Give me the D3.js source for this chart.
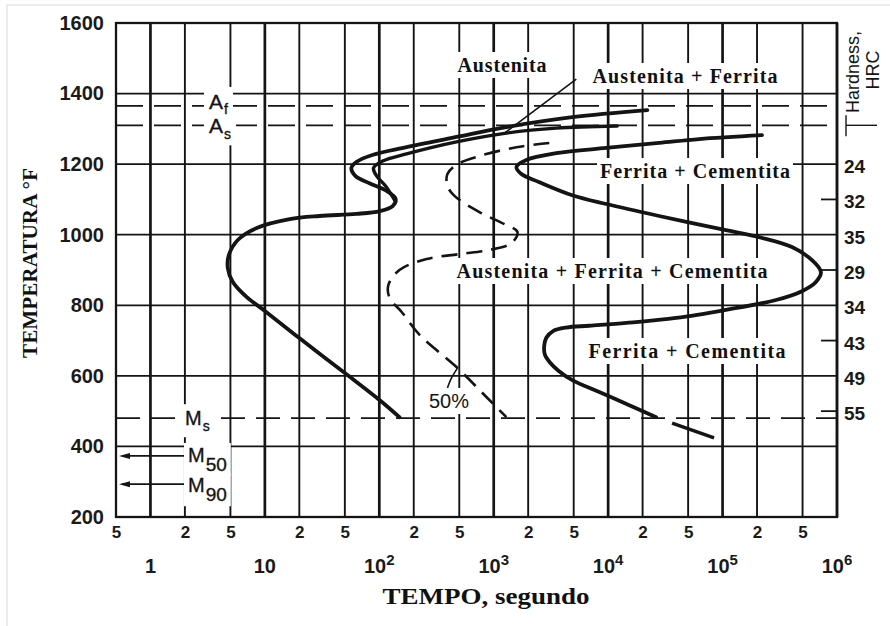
<!DOCTYPE html>
<html>
<head>
<meta charset="utf-8">
<script src="https://cdn.jsdelivr.net/npm/d3@7"></script>
<style>
  html, body { margin: 0; padding: 0; background: #fff; }
  svg { display: block; }
</style>
</head>
<body>
<svg id="chart" width="890" height="626"></svg>
<script>
// ---------- data ----------
// temperature grid / tick values (°F)
const tempTicks = [200, 400, 600, 800, 1000, 1200, 1400, 1600];

// time grid lines (s): 1, 2, 5 in every decade
const timeGridLines = [1, 2, 5, 10, 20, 50, 100, 200, 500, 1e3, 2e3, 5e3, 1e4, 2e4, 5e4, 1e5, 2e5, 5e5, 1e6];
const decadeValues = [1, 10, 100, 1e3, 1e4, 1e5, 1e6];
const decadeBase = ["1", "10", "10", "10", "10", "10", "10"];
const decadeExponent = ["", "", "2", "3", "4", "5", "6"];
const minorTickValues = [0.5, 2, 5, 20, 50, 200, 500, 2e3, 5e3, 2e4, 5e4, 2e5, 5e5];
const minorTickLabels = ["5", "2", "5", "2", "5", "2", "5", "2", "5", "2", "5", "2", "5"];

// hardness scale on the right (HRC at the given temperature)
const hardnessTemps = [1200, 1100, 1000, 900, 800, 700, 600, 500];
const hardnessHRC = [24, 32, 35, 29, 34, 43, 49, 55];

// critical temperatures (°F)
const tempAf = 1365, tempAs = 1310, tempMs = 480, tempM50 = 373, tempM90 = 293;

// transformation curves as [time (s), temperature (°F)]
const ferriteStart = [
  [22000, 1353], [4860, 1333], [1290, 1305], [473, 1277], [173, 1248], [87, 1226],
  [63, 1206], [57, 1189], [62, 1166], [82, 1146], [116, 1124], [139, 1101],
  [131, 1081], [101, 1067], [63, 1059], [30, 1053], [16.5, 1044], [8.5, 1019],
  [5.8, 985], [4.84, 942], [4.74, 906], [5.25, 866], [6.95, 823], [10, 784],
  [20, 707], [50, 608], [101, 531], [150, 483]
];
const pearliteStart = [
  [12000, 1308], [3520, 1302], [1290, 1288], [473, 1263], [173, 1229], [107, 1209],
  [89, 1189], [95, 1166], [113.5, 1138], [128, 1112], [139, 1093]
];
const halfTransformed = [
  [3060, 1260], [1580, 1248], [750, 1223], [482, 1200], [394, 1172], [394, 1138],
  [454, 1110], [750, 1064], [1240, 1030], [1610, 1008], [1430, 976], [918, 957],
  [502, 945], [259, 931], [150, 900], [120, 857], [123, 821], [157, 781],
  [225, 716], [473, 625], [863, 540], [1290, 483]
];
const transformFinish = [
  [221000, 1282], [62400, 1271], [27900, 1260], [9620, 1246], [3520, 1231], [1930, 1212],
  [1580, 1192], [1745, 1172], [2505, 1149], [4860, 1112], [9620, 1087], [27900, 1053],
  [107000, 1013], [208000, 993], [404000, 965], [604000, 928], [724000, 894],
  [654000, 866], [494000, 840], [293000, 815], [107000, 787], [39300, 764],
  [14400, 750], [6840, 742], [4300, 737], [3300, 727], [2880, 708], [2760, 684],
  [2800, 660], [3100, 638], [3700, 614], [4860, 588], [8360, 554], [15300, 517], [26300, 483]
];
const finishTail = [[36200, 466], [84300, 424]];

// pointer lines for the annotations
const austFerriteLeader = [[5270, 1441], [1240, 1288]];
const halfLeader = [[394, 566], [428, 594], [482, 622]];

// ---------- layout ----------
const W = 890, H = 626;
const margin = { left: 116, right: 53, top: 23, bottom: 109 };
const x = d3.scaleLog().domain([0.5, 1e6]).range([margin.left, W - margin.right]);
const y = d3.scaleLinear().domain([200, 1600]).range([H - margin.bottom, margin.top]);

const INK = "#141414";
const SANS = "'Liberation Sans', Arial, Helvetica, sans-serif";
const SERIF = "'Liberation Serif', 'Times New Roman', serif";

const svg = d3.select("#chart");
svg.append("rect").attr("width", W).attr("height", H).attr("fill", "#fff");
// faint outer frame
svg.append("path").attr("d", `M7,${H} V5 H${W}`).attr("fill", "none")
  .attr("stroke", "#e6e6e6").attr("stroke-width", 1.5);

const gGrid = svg.append("g");
const gRefs = svg.append("g");
const gKnock = svg.append("g");
const gCurves = svg.append("g");
const gText = svg.append("g");

// ---------- grid ----------
gGrid.selectAll("line.v").data(timeGridLines).join("line").attr("class", "v")
  .attr("x1", d => x(d)).attr("x2", d => x(d))
  .attr("y1", y(1600)).attr("y2", y(200))
  .attr("stroke", INK)
  .attr("stroke-width", d => decadeValues.includes(d) ? 2.7 : 1.9);

gGrid.selectAll("line.h").data(tempTicks.slice(1, -1)).join("line").attr("class", "h")
  .attr("x1", x(0.5)).attr("x2", x(1e6))
  .attr("y1", d => y(d)).attr("y2", d => y(d))
  .attr("stroke", INK).attr("stroke-width", 1.7);

gGrid.append("rect")
  .attr("x", x(0.5)).attr("y", y(1600))
  .attr("width", x(1e6) - x(0.5)).attr("height", y(200) - y(1600))
  .attr("fill", "none").attr("stroke", INK).attr("stroke-width", 2.3);

// hardness ticks that fall between grid lines
gGrid.selectAll("line.hrc").data(hardnessTemps.filter(t => !tempTicks.includes(t))).join("line")
  .attr("class", "hrc")
  .attr("x1", x(1e6) - 16).attr("x2", x(1e6))
  .attr("y1", d => y(d)).attr("y2", d => y(d))
  .attr("stroke", INK).attr("stroke-width", 1.8);

// ---------- critical temperature lines ----------
[tempAf, tempAs].forEach(t => {
  gRefs.append("line")
    .attr("x1", x(0.5)).attr("x2", x(1e6))
    .attr("y1", y(t)).attr("y2", y(t))
    .attr("stroke", INK).attr("stroke-width", 1.8)
    .attr("stroke-dasharray", "27,11");
});
gRefs.append("line")
  .attr("x1", x(0.5)).attr("x2", x(1e6))
  .attr("y1", y(tempMs)).attr("y2", y(tempMs))
  .attr("stroke", INK).attr("stroke-width", 1.8)
  .attr("stroke-dasharray", "24,11");

// short bracket marks beside the hardness title
gRefs.append("line").attr("x1", x(1e6) + 9).attr("x2", x(1e6) + 40)
  .attr("y1", y(tempAs)).attr("y2", y(tempAs))
  .attr("stroke", INK).attr("stroke-width", 1.4);
gRefs.append("line").attr("x1", x(1e6) + 9).attr("x2", x(1e6) + 9)
  .attr("y1", y(tempAs) - 10).attr("y2", y(tempAs) + 11)
  .attr("stroke", INK).attr("stroke-width", 1.4);

// M50 / M90 arrows pointing at the temperature axis
[tempM50, tempM90].forEach(t => {
  gRefs.append("line")
    .attr("x1", x(2)).attr("x2", x(0.5) + 6)
    .attr("y1", y(t)).attr("y2", y(t))
    .attr("stroke", INK).attr("stroke-width", 1.8);
  const ax = x(0.5) + 3, ay = y(t);
  gRefs.append("path")
    .attr("d", `M${ax},${ay} L${ax + 11},${ay - 3} L${ax + 11},${ay + 3} Z`)
    .attr("fill", INK);
});

// ---------- labels (each on a white patch that breaks the grid) ----------
function knockOut(sel, padX, padY) {
  const b = sel.node().getBBox();
  gKnock.append("rect")
    .attr("x", b.x - padX).attr("y", b.y - padY)
    .attr("width", b.width + 2 * padX).attr("height", b.height + 2 * padY)
    .attr("fill", "#fff");
}

const regionLabels = [
  { text: "Austenita", cx: 502, base: 72, w: 89 },
  { text: "Austenita + Ferrita", cx: 685, base: 83, w: 185 },
  { text: "Ferrita + Cementita", cx: 695, base: 178, w: 190 },
  { text: "Austenita + Ferrita + Cementita", cx: 612, base: 278, w: 311 },
  { text: "Ferrita + Cementita", cx: 687, base: 358, w: 197 }
];
regionLabels.forEach(l => {
  const t = gText.append("text")
    .attr("x", l.cx - l.w / 2).attr("y", l.base)
    .attr("textLength", l.w).attr("lengthAdjust", "spacing")
    .attr("font-family", SERIF).attr("font-weight", "bold").attr("font-size", 20)
    .attr("fill", "#111").text(l.text);
  knockOut(t, 3, 2);
});

// critical temperature labels with subscripts
function subLabel(x0, base, main, sub, mainSize, subSize, subDy) {
  const t = gText.append("text")
    .attr("x", x0).attr("y", base)
    .attr("font-family", SANS).attr("font-size", mainSize).attr("fill", INK)
    .attr("stroke", INK).attr("stroke-width", 0.35);
  t.append("tspan").text(main);
  t.append("tspan").attr("dx", 1).attr("dy", subDy).attr("font-size", subSize).text(sub);
  return t;
}
const lblAf = subLabel(209, y(tempAf) + 3, "A", "f", 21, 14, 5);
const lblAs = subLabel(209, y(tempAs) + 8, "A", "s", 21, 14, 6);
knockOut(lblAf, 5, 3);
knockOut(lblAs, 5, 3);
const lblMs = subLabel(185, y(tempMs) + 7, "M", "s", 20, 14, 6);
knockOut(lblMs, 4, 3);
const lblM50 = subLabel(188, y(tempM50) + 6, "M", "50", 20, 19, 9);
const lblM90 = subLabel(188, y(tempM90) + 8, "M", "90", 20, 19, 9);
knockOut(lblM50, 4, 1);
knockOut(lblM90, 4, 1);

const lbl50 = gText.append("text")
  .attr("x", 449).attr("y", 408).attr("text-anchor", "middle")
  .attr("font-family", SANS).attr("font-size", 20).attr("fill", INK).text("50%");
knockOut(lbl50, 3, 2);

// ---------- curves ----------
const line = d3.line()
  .x(d => x(d[0])).y(d => y(d[1]))
  .curve(d3.curveCatmullRom.alpha(0.5));

gCurves.append("path").datum(ferriteStart).attr("d", line)
  .attr("fill", "none").attr("stroke", INK).attr("stroke-width", 3.8)
  .attr("stroke-linecap", "round").attr("stroke-linejoin", "round");
gCurves.append("path").datum(pearliteStart).attr("d", line)
  .attr("fill", "none").attr("stroke", INK).attr("stroke-width", 3.4)
  .attr("stroke-linecap", "round");
gCurves.append("path").datum(halfTransformed).attr("d", line)
  .attr("fill", "none").attr("stroke", INK).attr("stroke-width", 2.6)
  .attr("stroke-dasharray", "16,9");
gCurves.append("path").datum(transformFinish).attr("d", line)
  .attr("fill", "none").attr("stroke", INK).attr("stroke-width", 3.8)
  .attr("stroke-linecap", "round").attr("stroke-linejoin", "round");
gCurves.append("path").datum(finishTail).attr("d", line)
  .attr("fill", "none").attr("stroke", INK).attr("stroke-width", 3.4);

gCurves.append("path").datum(austFerriteLeader).attr("d", line)
  .attr("fill", "none").attr("stroke", INK).attr("stroke-width", 1.6);
gCurves.append("path").datum(halfLeader).attr("d", line)
  .attr("fill", "none").attr("stroke", INK).attr("stroke-width", 1.6);

// ---------- axes ----------
const yAxis = gText.append("g")
  .attr("transform", `translate(${x(0.5)},0)`)
  .call(d3.axisLeft(y).tickValues(tempTicks).tickSize(0).tickPadding(12).tickFormat(d3.format("d")));
yAxis.select(".domain").remove();
yAxis.selectAll("text")
  .attr("font-family", SANS).attr("font-weight", "bold").attr("font-size", 20).attr("fill", "#1a1a1a");

const hAxis = gText.append("g")
  .attr("transform", `translate(${x(1e6)},0)`)
  .call(d3.axisRight(y).tickValues(hardnessTemps).tickSize(0).tickPadding(7)
    .tickFormat((d, i) => hardnessHRC[i]));
hAxis.select(".domain").remove();
hAxis.selectAll("text")
  .attr("dy", "0.45em")
  .attr("font-family", SANS).attr("font-weight", "bold").attr("font-size", 19).attr("fill", "#1a1a1a");

const xMinor = gText.append("g")
  .attr("transform", `translate(0,${y(200)})`)
  .call(d3.axisBottom(x).tickValues(minorTickValues).tickSize(0).tickPadding(9)
    .tickFormat((d, i) => minorTickLabels[i]));
xMinor.select(".domain").remove();
xMinor.selectAll("text")
  .attr("font-family", SANS).attr("font-weight", "bold").attr("font-size", 17).attr("fill", "#1a1a1a");

// decade labels 1, 10, 10², ... 10⁶
decadeValues.forEach((v, i) => {
  const t = gText.append("text")
    .attr("x", x(v)).attr("y", 573).attr("text-anchor", "middle")
    .attr("font-family", SANS).attr("font-weight", "bold").attr("font-size", 20).attr("fill", "#1a1a1a");
  t.append("tspan").text(decadeBase[i]);
  if (decadeExponent[i]) {
    t.append("tspan").attr("dy", -8).attr("font-size", 15).text(decadeExponent[i]);
  }
});

// axis titles
gText.append("text")
  .attr("x", 486).attr("y", 604).attr("text-anchor", "middle")
  .attr("textLength", 207).attr("lengthAdjust", "spacingAndGlyphs")
  .attr("font-family", SERIF).attr("font-weight", "bold").attr("font-size", 23)
  .attr("fill", "#111").text("TEMPO, segundo");

gText.append("text")
  .attr("transform", "translate(37,263) rotate(-90)")
  .attr("text-anchor", "middle")
  .attr("textLength", 190).attr("lengthAdjust", "spacingAndGlyphs")
  .attr("font-family", SERIF).attr("font-weight", "bold").attr("font-size", 22)
  .attr("fill", "#111").text("TEMPERATURA °F");

gText.append("text")
  .attr("transform", "translate(859,72) rotate(-90)")
  .attr("text-anchor", "middle")
  .attr("font-family", SANS).attr("font-size", 18).attr("fill", INK).text("Hardness,");
gText.append("text")
  .attr("transform", "translate(879,70) rotate(-90)")
  .attr("text-anchor", "middle")
  .attr("font-family", SANS).attr("font-size", 18).attr("fill", INK).text("HRC");
</script>
</body>
</html>
